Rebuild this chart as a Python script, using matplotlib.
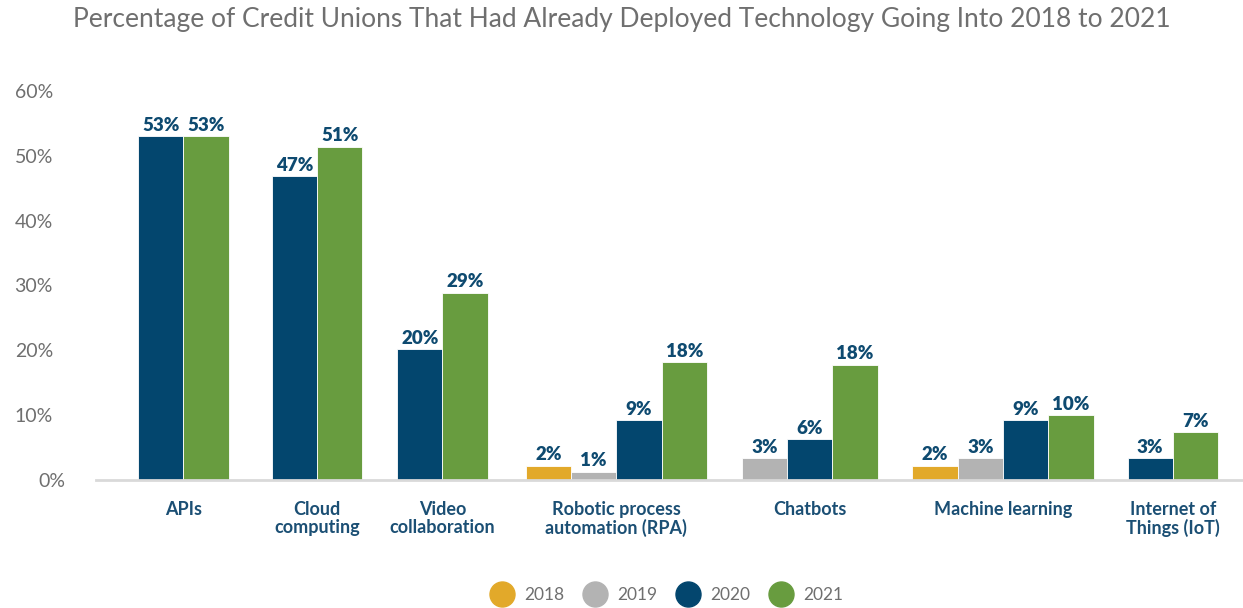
import matplotlib
matplotlib.use("Agg")
import matplotlib.pyplot as plt
import matplotlib.transforms as mtransforms
from matplotlib.lines import Line2D

plt.rcParams['font.family'] = ['Lato', 'DejaVu Sans']

# technologies along the x axis
categories = ["APIs", "Cloud\ncomputing", "Video\ncollaboration",
              "Robotic process\nautomation (RPA)", "Chatbots",
              "Machine learning", "Internet of\nThings (IoT)"]
years = ["2018", "2019", "2020", "2021"]

# share of credit unions (%), None where the year was not surveyed
v2018 = [None, None, None, 2.2, None, 2.2, None]
v2019 = [None, None, None, 1.3, 3.4, 3.4, None]
v2020 = [53.0, 46.9, 20.2, 9.2, 6.3, 9.2, 3.4]
v2021 = [53.0, 51.4, 28.9, 18.2, 17.8, 10.0, 7.4]

yticks = [0, 10, 20, 30, 40, 50, 60]

colors = ["#E2A92A", "#B3B3B3", "#03466E", "#689C3F"]
label_blue = "#0E4A70"
grey_text = "#6F6F6F"

series = [v2018, v2019, v2020, v2021]

fig = plt.figure(figsize=(12.43, 6.08), dpi=100)
ax = fig.add_axes([96 / 1243, 128 / 608, 1147 / 1243, 389 / 608])

bar_w = 1.0
# spacing after each group, in bar widths
gaps = [0.95, 0.77, 0.84, 0.77, 0.77, 0.75, 0]
x = 0.0
centers = []
for i, cat in enumerate(categories):
    present = [k for k in range(4) if series[k][i] is not None]
    start = x
    for k in present:
        val = series[k][i]
        ax.bar(x, val, width=bar_w, align='edge', color=colors[k],
               edgecolor='white', linewidth=0.6, zorder=2)
        ax.text(x + bar_w / 2, val + 0.35, f"{val:.0f}%", ha='center', va='bottom',
                fontsize=13.5, fontweight='heavy', color=label_blue)
        x += bar_w
    centers.append((start + x) / 2)
    x += gaps[i]

ax.set_xlim(-0.93, 24.4)
ax.set_ylim(0, 60)

ax.set_xticks(centers)
ax.set_xticklabels(categories, fontsize=13, fontweight='bold', color="#1B4F74",
                   linespacing=1.1)
ax.tick_params(axis='x', length=0, pad=15)

ax.set_yticks(yticks)
ax.set_yticklabels([f"{t}%" for t in yticks], fontsize=14, color=grey_text)
ax.tick_params(axis='y', length=0, pad=31)
# the zero label sits a little further right
lab0 = ax.get_yticklabels()[0]
lab0.set_transform(lab0.get_transform() +
                   mtransforms.ScaledTranslation(12 / 100, 0, fig.dpi_scale_trans))

for s in ['top', 'right', 'left']:
    ax.spines[s].set_visible(False)
ax.spines['bottom'].set_color("#D9D9D9")
ax.spines['bottom'].set_linewidth(2)

fig.text(0.5, 0.968, "Percentage of Credit Unions That Had Already Deployed Technology Going Into 2018 to 2021",
         ha='center', va='center', fontsize=19, fontweight='normal', color=grey_text)

handles = [Line2D([0], [0], marker='o', linestyle='', markersize=18,
                  markerfacecolor=c, markeredgecolor=c) for c in colors]
fig.legend(handles, years, loc='center', bbox_to_anchor=(0.534, 0.022),
           ncol=4, frameon=False, fontsize=12.5, labelcolor=grey_text,
           handletextpad=0.3, columnspacing=0.75)

fig.savefig("out.png", dpi=100)
